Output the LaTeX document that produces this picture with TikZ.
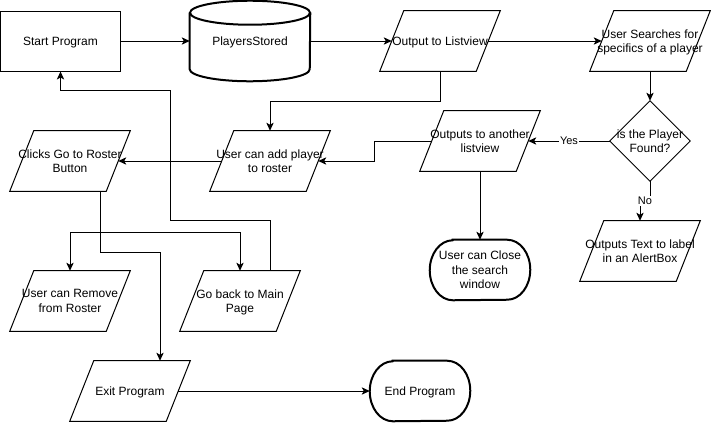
\documentclass[tikz,border=0pt]{standalone}
\usepackage{fontspec}
\setmainfont{Liberation Sans}
\usetikzlibrary{calc,arrows.meta}

% Shapes are placed on a pixel-like grid: 1 unit = 0.75pt, y grows downwards.
\tikzset{
  thin line/.style={line width=0.75pt},
  thick line/.style={line width=1.5pt},
  flow/.style={thin line,-{Stealth[length=6pt,width=5.5pt,inset=1.5pt]}},
  textbox/.style={inner sep=0pt,align=center,text depth=0pt},
  procbox/.style={textbox,draw,thin line,minimum width=90pt,minimum height=45pt},
  iobox/.style={textbox,minimum width=90pt,minimum height=45pt},
  termbox/.style={textbox,minimum width=75pt,minimum height=45pt},
  cylbox/.style={textbox,minimum width=90pt,minimum height=60pt},
  decbox/.style={textbox,minimum width=60pt,minimum height=60pt},
  lbl/.style={fill=white,inner sep=1pt,text depth=0pt,font=\fontsize{8.25}{10}\selectfont},
}

% input/output parallelogram with named mid points of its slanted sides
\newcommand\ionode[3]{%
  \node[iobox] (#1) at (#2) {#3};
  \draw[thin line] ($(#1.north west)+(24,0)$) -- (#1.north east)
    -- ($(#1.south east)+(-24,0)$) -- (#1.south west) -- cycle;
  \coordinate (#1 w) at ($(#1.west)+(12,0)$);
  \coordinate (#1 e) at ($(#1.east)+(-12,0)$);
}

% terminator with elliptic ends
\newcommand\termnode[3]{%
  \node[termbox] (#1) at (#2) {#3};
  \draw[thick line] ($(#1.north west)+(23,0)$) -- ($(#1.north east)+(-23,0)$)
    arc[start angle=90,end angle=-90,x radius=17.25pt,y radius=22.5pt]
    -- ($(#1.south west)+(23,0)$)
    arc[start angle=270,end angle=90,x radius=17.25pt,y radius=22.5pt] -- cycle;
}

\begin{document}
\begin{tikzpicture}[x=0.75pt,y=-0.75pt,font=\fontsize{9}{10.9}\selectfont]
\useasboundingbox (0,0) rectangle (711,422);

% --- nodes ---
\node[procbox] (start) at (60.5,41) {Start Program};

\node[cylbox] (ps) at (250,41) {PlayersStored};
\draw[thick line] ($(ps.north west)+(0,12)$) -- ($(ps.south west)+(0,-12)$)
  arc[start angle=180,end angle=360,x radius=45pt,y radius=9pt]
  -- ($(ps.north east)+(0,12)$);
\draw[thick line] ($(ps.north)+(0,12)$) ellipse[x radius=45pt,y radius=9pt];

\ionode{out}{440,41}{Output to Listview}
\ionode{search}{650,41}{User Searches for\\specifics of a player}

\node[decbox] (dec) at (650,141) {is the Player\\Found?};
\draw[thin line] (dec.north) -- (dec.east) -- (dec.south) -- (dec.west) -- cycle;

\ionode{another}{480,141}{Outputs to another\\listview}
\ionode{alert}{640,251}{Outputs Text to label\\in an AlertBox}
\ionode{add}{270,161}{User can add player\\to roster}
\ionode{clicks}{70,161}{Clicks Go to Roster\\Button}
\ionode{remove}{70,301}{User can Remove\\from Roster}
\ionode{back}{240,301}{Go back to Main\\Page}
\ionode{exit}{130,391}{Exit Program}

\termnode{close}{480,270}{User can Close\\the search\\window}
\termnode{end}{420,391}{End Program}

% --- connectors ---
\draw[flow] (start.east) -- (ps.west);
\draw[flow] (ps.east) -- (out w);
\draw[flow] (out e) -- (search w);
\draw[flow] (search.south) -- (dec.north);
\draw[flow] (dec.west) -- node[lbl] {Yes} (another e);
\coordinate (nojog) at ($(dec.south)!0.5!(alert.north)$);
\draw[flow] (dec.south) |- (nojog) -| (alert.north);
\node[lbl] at (nojog) {No};
\draw[flow] (another.south) -- (close.north);
\draw[flow] (out.south) -- ++(0,30) -| (add.north);
\draw[flow] (another w) -- ++(-57,0) |- (add e);
\draw[flow] (add w) -- (clicks e);

\coordinate (cb) at ($(clicks.south)+(30,0)$);
\coordinate (exitin) at ($(exit.north)+(30,0)$);
\coordinate (backout) at ($(back.north)+(30,0)$);
\draw[flow] (cb) -- ++(0,41) -| (remove.north);
\draw[flow] (cb) -- ++(0,41) -| (back.north);
\draw[flow] (cb) -- ++(0,61) -| (exitin);
\draw[flow] (backout) -- ++(0,-50) -- ++(-100,0) -- ++(0,-130) -| (start.south);
\draw[flow] (exit e) -- (end.west);
\end{tikzpicture}
\end{document}
